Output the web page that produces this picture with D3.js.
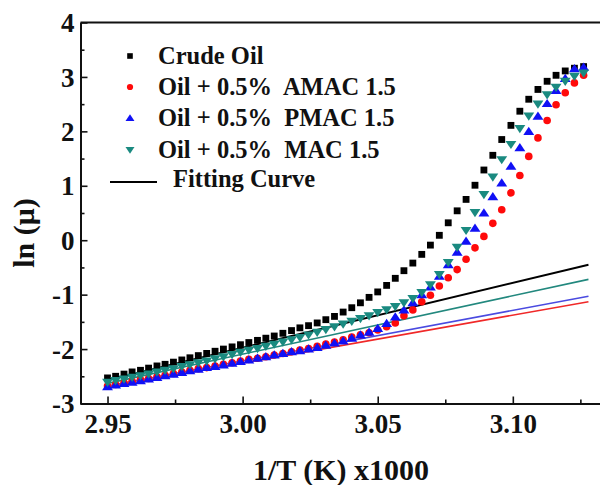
<!DOCTYPE html>
<html><head><meta charset="utf-8">
<script src="https://cdn.jsdelivr.net/npm/d3@7"></script>
<style>html,body{margin:0;padding:0;background:#fff;overflow:hidden}</style>
</head><body>
<svg id="chart" width="600" height="485"></svg>
<script>
const xValues = [2.9500,2.9530,2.9561,2.9591,2.9622,2.9652,2.9683,2.9713,2.9744,2.9775,
  2.9805,2.9836,2.9867,2.9898,2.9929,2.9961,2.9992,3.0023,3.0055,3.0086,
  3.0117,3.0149,3.0181,3.0212,3.0244,3.0276,3.0308,3.0340,3.0372,3.0404,
  3.0436,3.0468,3.0500,3.0533,3.0565,3.0597,3.0630,3.0663,3.0695,3.0728,
  3.0761,3.0794,3.0827,3.0860,3.0893,3.0926,3.0959,3.0993,3.1026,3.1059,
  3.1093,3.1127,3.1160,3.1194,3.1228,3.1262];
const crudeOil = [-2.53,-2.50,-2.46,-2.42,-2.39,-2.35,-2.31,-2.28,-2.24,-2.20,
  -2.16,-2.12,-2.08,-2.04,-2.00,-1.96,-1.92,-1.88,-1.84,-1.80,
  -1.76,-1.71,-1.66,-1.61,-1.57,-1.52,-1.46,-1.40,-1.32,-1.24,
  -1.15,-1.05,-0.95,-0.83,-0.70,-0.56,-0.42,-0.26,-0.09,0.09,
  0.32,0.54,0.75,1.01,1.29,1.56,1.85,2.11,2.37,2.59,
  2.77,2.92,3.03,3.11,3.16,3.19];
const amac = [-2.68,-2.65,-2.62,-2.59,-2.56,-2.54,-2.51,-2.48,-2.45,-2.42,
  -2.39,-2.36,-2.34,-2.31,-2.28,-2.25,-2.22,-2.19,-2.17,-2.14,
  -2.11,-2.08,-2.05,-2.02,-1.99,-1.95,-1.91,-1.87,-1.83,-1.78,
  -1.74,-1.70,-1.65,-1.59,-1.52,-1.39,-1.28,-1.13,-1.01,-0.84,
  -0.69,-0.54,-0.35,-0.14,0.07,0.31,0.56,0.87,1.19,1.54,
  1.88,2.20,2.49,2.71,2.89,3.03];
const pmac = [-2.69,-2.66,-2.63,-2.61,-2.58,-2.55,-2.52,-2.49,-2.46,-2.43,
  -2.40,-2.37,-2.34,-2.32,-2.29,-2.26,-2.23,-2.20,-2.17,-2.14,
  -2.11,-2.08,-2.05,-2.03,-2.00,-1.97,-1.93,-1.89,-1.85,-1.80,
  -1.74,-1.69,-1.62,-1.53,-1.41,-1.28,-1.15,-1.00,-0.86,-0.66,
  -0.45,-0.22,-0.02,0.22,0.50,0.80,1.05,1.36,1.70,2.00,
  2.28,2.51,2.75,2.97,3.15,3.18];
const mac = [-2.61,-2.58,-2.55,-2.52,-2.49,-2.46,-2.42,-2.39,-2.36,-2.32,
  -2.29,-2.25,-2.22,-2.18,-2.14,-2.10,-2.06,-2.02,-1.99,-1.95,
  -1.91,-1.87,-1.83,-1.79,-1.74,-1.69,-1.64,-1.59,-1.54,-1.49,
  -1.44,-1.39,-1.33,-1.28,-1.22,-1.15,-1.07,-0.96,-0.82,-0.63,
  -0.41,-0.13,0.18,0.51,0.84,1.16,1.48,1.76,2.05,2.28,
  2.50,2.67,2.81,2.92,3.01,3.07];
const fitX = [2.95, 3.128];
const fitCrude = [-2.57, -0.45];
const fitAmac = [-2.70, -1.13];
const fitPmac = [-2.68, -1.03];
const fitMac = [-2.63, -0.72];
const xTicks = [2.95, 3.00, 3.05, 3.10];
const xMinorTicks = [2.975, 3.025, 3.075, 3.125];
const yTicks = [-3, -2, -1, 0, 1, 2, 3, 4];
const yMinorTicks = [-2.5, -1.5, -0.5, 0.5, 1.5, 2.5, 3.5];
const legendLabels = ["Crude Oil", "Oil + 0.5%  AMAC 1.5", "Oil + 0.5%  PMAC 1.5", "Oil + 0.5%  MAC 1.5", "Fitting Curve"];

(function () {
const svg = d3.select("#chart");
const FONT = "'Liberation Serif','Times New Roman',serif";
const pLeft = 80.5, pTop = 22.5, pBottom = 403.5;
const x = d3.scaleLinear().domain([2.94, 3.135]).range([pLeft, pLeft + 0.195 * 2702]);
const y = d3.scaleLinear().domain([-3, 4]).range([pBottom, pTop]);

const colors = {black: "#000000", red: "#ff0a0a", blue: "#1010f5", teal: "#1a8a80"};
const lineColors = {black: "#000000", red: "#f02828", blue: "#4a4ae0", teal: "#22887e"};

function triUp(s) { const w = s * 0.58, h = s * 0.5; return `M0,${-h}L${w},${h * 0.75}L${-w},${h * 0.75}Z`; }
function triDown(s) { const w = s * 0.58, h = s * 0.5; return `M0,${h}L${w},${-h * 0.75}L${-w},${-h * 0.75}Z`; }
function square(s) { const a = s * 0.45; return `M${-a},${-a}H${a}V${a}H${-a}Z`; }
function circle(s) { const r = s * 0.5; return `M${r},0A${r},${r} 0 1,1 ${-r},0A${r},${r} 0 1,1 ${r},0Z`; }

const series = [
  {vals: crudeOil, fit: fitCrude, c: "black", sym: square, size: 7.6},
  {vals: amac, fit: fitAmac, c: "red", sym: circle, size: 7.6},
  {vals: pmac, fit: fitPmac, c: "blue", sym: triUp, size: 9.4},
  {vals: mac, fit: fitMac, c: "teal", sym: triDown, size: 9.4}
];

const g = svg.append("g");
g.append("line").attr("x1", pLeft).attr("x2", 610).attr("y1", pTop).attr("y2", pTop).attr("stroke", "#111").attr("stroke-width", 2);

const xAxis = d3.axisBottom(x).tickValues(xTicks).tickFormat(d3.format(".2f")).tickSizeInner(-7).tickSizeOuter(0).tickPadding(10);
const xa = g.append("g").attr("transform", `translate(0,${pBottom})`).call(xAxis);
xa.select(".domain").attr("d", `M${pLeft},0.5H610`).attr("stroke", "#111").attr("stroke-width", 2);
xa.selectAll(".tick line").attr("stroke", "#111").attr("stroke-width", 1.6);
xa.selectAll("text").attr("font-family", FONT).attr("font-weight", "bold").attr("font-size", 27).attr("fill", "#111");
const xm = d3.axisBottom(x).tickValues(xMinorTicks).tickSizeInner(-4).tickSizeOuter(0).tickFormat("");
const xma = g.append("g").attr("transform", `translate(0,${pBottom})`).call(xm);
xma.select(".domain").remove();
xma.selectAll(".tick line").attr("stroke", "#111").attr("stroke-width", 1.6);

const yAxis = d3.axisLeft(y).tickValues(yTicks).tickFormat(d => String(d)).tickSizeInner(-7).tickSizeOuter(0).tickPadding(6);
const ya = g.append("g").attr("transform", `translate(${pLeft},0)`).call(yAxis);
ya.select(".domain").attr("stroke", "#111").attr("stroke-width", 2);
ya.selectAll(".tick line").attr("stroke", "#111").attr("stroke-width", 1.6);
ya.selectAll("text").attr("font-family", FONT).attr("font-weight", "bold").attr("font-size", 27).attr("fill", "#111").attr("dy", "0.34em");
const ym = d3.axisLeft(y).tickValues(yMinorTicks).tickSizeInner(-4).tickSizeOuter(0).tickFormat("");
const yma = g.append("g").attr("transform", `translate(${pLeft},0)`).call(ym);
yma.select(".domain").remove();
yma.selectAll(".tick line").attr("stroke", "#111").attr("stroke-width", 1.6);

svg.append("text").attr("x", 341).attr("y", 480).attr("text-anchor", "middle")
  .attr("font-family", FONT).attr("font-weight", "bold").attr("font-size", 30).attr("fill", "#111")
  .text("1/T (K) x1000");
svg.append("text").attr("transform", "translate(34,233) rotate(-90)").attr("text-anchor", "middle")
  .attr("font-family", FONT).attr("font-weight", "bold").attr("font-size", 30).attr("fill", "#111")
  .text("ln (μ)");

const lineGen = d3.line().x(d => x(d[0])).y(d => y(d[1]));
series.forEach(s => {
  svg.append("path").datum(fitX.map((xv, i) => [xv, s.fit[i]]))
    .attr("d", lineGen).attr("fill", "none").attr("stroke", lineColors[s.c])
    .attr("stroke-width", s.c === "black" ? 2 : 1.6);
});

series.forEach(s => {
  svg.append("g").selectAll("path").data(s.vals).join("path")
    .attr("transform", (d, i) => `translate(${x(xValues[i])},${y(d)})`)
    .attr("d", s.sym(s.size)).attr("fill", colors[s.c]);
});

const lg = svg.append("g").attr("font-family", FONT).attr("font-weight", "bold").attr("font-size", 24.5).attr("fill", "#111");
const rowY = [56, 87, 118, 150, 182];
series.forEach((s, i) => {
  lg.append("path").attr("transform", `translate(130,${rowY[i]})`).attr("d", s.sym(s.size * 0.82)).attr("fill", colors[s.c]);
  lg.append("text").attr("x", 158).attr("y", rowY[i] + 8).style("white-space", "pre").text(legendLabels[i]);
});
lg.append("line").attr("x1", 110).attr("x2", 157).attr("y1", rowY[4]).attr("y2", rowY[4]).attr("stroke", "#000").attr("stroke-width", 2);
lg.append("text").attr("x", 173).attr("y", rowY[4] + 5).text(legendLabels[4]);
})();
</script>
</body></html>
